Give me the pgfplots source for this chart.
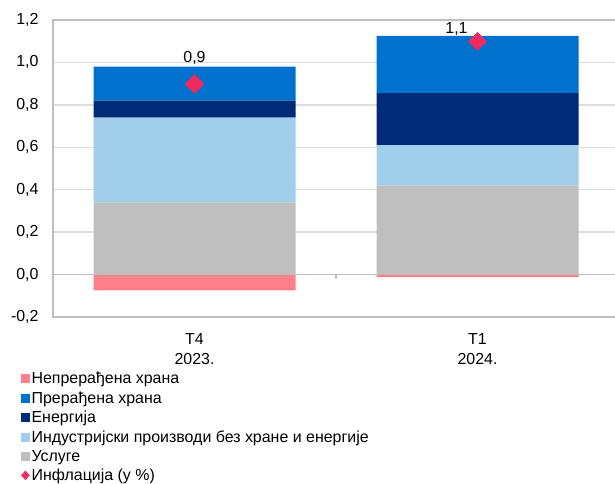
\documentclass[border=0pt]{standalone}
\usepackage{fontspec}
\setmainfont{Liberation Sans}
\usepackage{pgfplots}
\pgfplotsset{compat=1.18}
\definecolor{cUnp}{HTML}{FF808A}
\definecolor{cProc}{HTML}{0072CE}
\definecolor{cEn}{HTML}{002B77}
\definecolor{cInd}{HTML}{A0CEEB}
\definecolor{cServ}{HTML}{BFBFBF}
\definecolor{cInf}{HTML}{EE2A5E}
\definecolor{cFrame}{HTML}{BFBFBF}
\definecolor{cGrid}{HTML}{DDDDDD}
\newcommand{\fs}{\fontsize{16}{20}\selectfont}
\begin{document}
\fs
\begin{tikzpicture}
\pgfplotsset{base/.style={at={(53bp,167bp)}, anchor=south west, scale only axis,
  width=566bp, height=297bp, xmin=-0.5, xmax=1.5, ymin=-0.2, ymax=1.2,
  bar width=202bp}}
\begin{axis}[base, ybar stacked,
  axis line style={draw=cFrame, line width=1.6bp},
  ytick={-0.2,0,0.2,0.4,0.6,0.8,1.0,1.2},
  ymajorgrids, grid style={draw=cGrid, line width=1.3bp},
  major tick length=0pt,
  xtick={0,1}, xticklabels={{T4\\2023.},{T1\\2024.}},
  xticklabel style={align=center, font=\fs, yshift=-11bp},
  yticklabel style={font=\fs, xshift=-9bp},
  /pgf/number format/.cd, assume math mode=true, use comma, fixed, fixed zerofill, precision=1,
  /pgfplots/.cd,
  legend style={at={(-0.0565,-0.185)}, anchor=north west, draw=none, fill=none,
    inner sep=0pt, row sep=5.5bp,
    nodes={inner sep=0pt, font=\fs},
    /tikz/every odd column/.style={column sep=2bp}},
  legend cell align=left,
]
\addlegendimage{legend image code/.code={\fill[cUnp] (0bp,-3.5bp) rectangle (8bp,4.5bp);}}
\addlegendentry{Непрерађена храна}
\addlegendimage{legend image code/.code={\fill[cProc] (0bp,-3.5bp) rectangle (8bp,4.5bp);}}
\addlegendentry{Прерађена храна}
\addlegendimage{legend image code/.code={\fill[cEn] (0bp,-3.5bp) rectangle (8bp,4.5bp);}}
\addlegendentry{Енергија}
\addlegendimage{legend image code/.code={\fill[cInd] (0bp,-3.5bp) rectangle (8bp,4.5bp);}}
\addlegendentry{Индустријски производи без хране и енергије}
\addlegendimage{legend image code/.code={\fill[cServ] (0bp,-3.5bp) rectangle (8bp,4.5bp);}}
\addlegendentry{Услуге}
\addlegendimage{legend image code/.code={\fill[cInf] (4bp,-4bp) -- (8bp,0.5bp) -- (4bp,5bp) -- (0bp,0.5bp) -- cycle;}}
\addlegendentry{Инфлација (у \%)}
% stacked positive components
\addplot[fill=cServ, draw=none, forget plot] coordinates {(0,0.34) (1,0.42)};
\addplot[fill=cInd, draw=none, forget plot] coordinates {(0,0.40) (1,0.19)};
\addplot[fill=cEn, draw=none, forget plot] coordinates {(0,0.08) (1,0.245)};
\addplot[fill=cProc, draw=none, forget plot] coordinates {(0,0.16) (1,0.27)};
\end{axis}
\begin{axis}[base, hide axis]
% negative component
\addplot[ybar, fill=cUnp, draw=none] coordinates {(0,-0.075) (1,-0.012)};
\draw[cFrame, line width=1.6bp] (axis cs:-0.5,0) -- (axis cs:1.5,0);
\draw[cFrame, line width=1.2bp] (axis cs:0.5,0) -- ++(0pt,-4bp);
% inflation
\addplot[cInf, only marks, mark=square*, mark size=6.5bp, mark options={rotate=45, fill=cInf, draw=cInf, line width=0pt}]
  coordinates {(0,0.90) (1,1.10)};
\node[font=\fs] at (axis cs:0,0.90) [yshift=26bp] {0,9};
\node[font=\fs] at (axis cs:1,1.10) [xshift=-21bp, yshift=12bp] {1,1};
\end{axis}
\pgfresetboundingbox
\path (0,0) rectangle (615bp,484bp);
\end{tikzpicture}
\end{document}
